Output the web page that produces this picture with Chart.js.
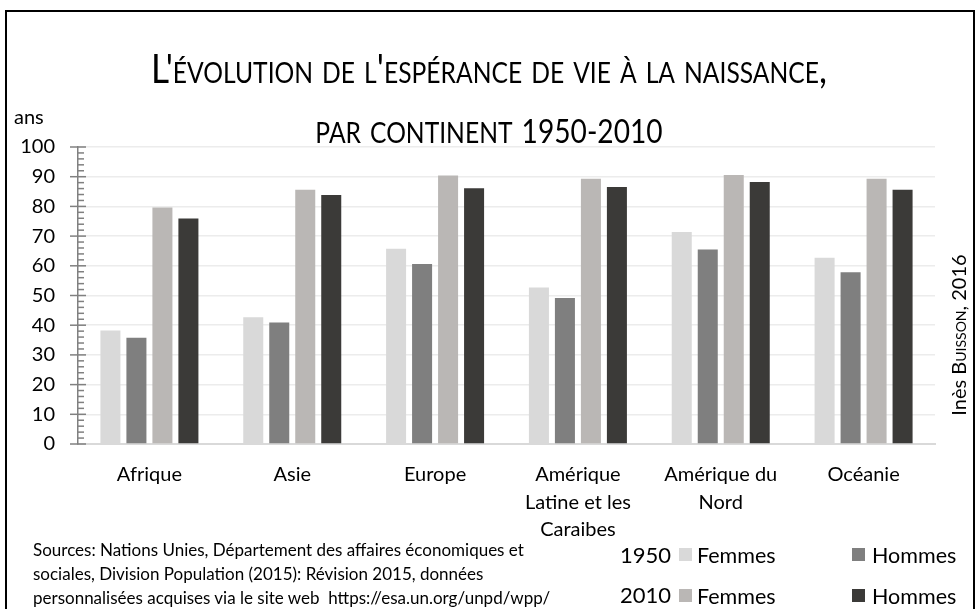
<!DOCTYPE html>
<html>
<head>
<meta charset="utf-8">
<script src="https://cdn.jsdelivr.net/npm/chart.js@4"></script>
<style>
  body { margin: 0; background: #fff; font-family: Lato, sans-serif; color: #000; }
  #wrap { position: relative; width: 978px; height: 609px; overflow: hidden; }
  #frame { position: absolute; left: 5px; top: 10px; width: 966px; height: 640px; border: 2px solid #000; }
  canvas { position: absolute; left: 0; top: 0; }
  .t { position: absolute; white-space: nowrap; }
  #title { left: 0; width: 978px; top: 38px; text-align: center; font-weight: 400; font-size: 40px; font-variant: small-caps; line-height: 60px; transform: scaleX(0.88); }
  #title .yr { font-variant: normal; font-size: 32px; }
  #ans { left: 14px; top: 104px; font-size: 20px; }
  #author { left: 958px; top: 335px; font-size: 20px; transform: translate(-50%, -50%) rotate(-90deg); }
  #author .sc { font-variant: small-caps; }
  #src { left: 33px; top: 538px; font-size: 17px; line-height: 24px; }
  .yr-l { font-size: 22px; }
  .sq { position: absolute; width: 13px; height: 13px; }
  .lg { font-size: 21.5px; }
</style>
</head>
<body>
<div id="wrap">
  <canvas id="graf" width="978" height="609"></canvas>
  <div id="frame"></div>
  <div id="title" class="t">L'évolution de l'espérance de vie à la naissance,<br>par continent <span class="yr">1950-2010</span></div>
  <div id="ans" class="t">ans</div>
  <div id="author" class="t">Inès B<span class="sc">uisson</span>, 2016</div>
  <div id="src" class="t">Sources: Nations Unies, Département des affaires économiques et<br>sociales, Division Population (2015): Révision 2015, données<br>personnalisées acquises via le site web&nbsp; https://esa.un.org/unpd/wpp/</div>

  <div class="t yr-l" style="left:620px; top:541px;">1950</div>
  <div class="sq" style="left:679px; top:548px; background:#d9d9d9;"></div>
  <div class="t lg" style="left:697px; top:542px;">Femmes</div>
  <div class="sq" style="left:852px; top:548px; background:#7f7f7f;"></div>
  <div class="t lg" style="left:872px; top:542px;">Hommes</div>

  <div class="t yr-l" style="left:620px; top:581px;">2010</div>
  <div class="sq" style="left:679px; top:589px; background:#bab7b5;"></div>
  <div class="t lg" style="left:697px; top:583px;">Femmes</div>
  <div class="sq" style="left:852px; top:589px; background:#3b3a38;"></div>
  <div class="t lg" style="left:872px; top:583px;">Hommes</div>
</div>

<script>
// continents (axe X)
var continents = ["Afrique", "Asie", "Europe", ["Amérique", "Latine et les", "Caraibes"], ["Amérique du", "Nord"], "Océanie"];

// espérance de vie (ans)
var femmes1950 = [38.2, 42.7, 65.7, 52.7, 71.4, 62.7];
var hommes1950 = [35.8, 40.9, 60.6, 49.2, 65.5, 57.8];
var femmes2010 = [79.6, 85.6, 90.4, 89.3, 90.6, 89.3];
var hommes2010 = [75.9, 83.8, 86.1, 86.5, 88.2, 85.6];

var yTicks = [0, 10, 20, 30, 40, 50, 60, 70, 80, 90, 100];

// petits traits de l'axe Y (majeurs + mineurs)
var axeTicks = {
  id: 'axeTicks',
  afterDraw: function(chart) {
    var y = chart.scales.y;
    var ctx = chart.ctx;
    var x0 = chart.chartArea.left;
    ctx.save();
    ctx.strokeStyle = '#808080';
    ctx.lineWidth = 1.5;
    for (var v = 0; v <= 100; v += 2) {
      var py = y.getPixelForValue(v);
      ctx.beginPath();
      if (v % 10 === 0) {
        ctx.moveTo(x0 - 8, py);
        ctx.lineTo(x0 + 8, py);
      } else {
        ctx.moveTo(x0, py);
        ctx.lineTo(x0 + 6, py);
      }
      ctx.stroke();
    }
    ctx.restore();
  }
};

var ctx = document.getElementById("graf").getContext("2d");

var graf = new Chart(ctx, {
  type: 'bar',
  data: {
    labels: continents,
    datasets: [
      { label: '1950 Femmes', data: femmes1950, backgroundColor: '#d9d9d9' },
      { label: '1950 Hommes', data: hommes1950, backgroundColor: '#7f7f7f' },
      { label: '2010 Femmes', data: femmes2010, backgroundColor: '#bab7b5' },
      { label: '2010 Hommes', data: hommes2010, backgroundColor: '#3b3a38' }
    ]
  },
  options: {
    responsive: false,
    animation: false,
    devicePixelRatio: 1,
    categoryPercentage: 0.728,
    barPercentage: 0.77,
    layout: { padding: { left: 0, top: 147, right: 43, bottom: 0 } },
    plugins: {
      legend: { display: false },
      tooltip: { enabled: false },
      title: { display: false }
    },
    scales: {
      x: {
        grid: { display: false, drawTicks: false },
        border: { color: '#d9d9d9', width: 2 },
        ticks: {
          color: '#000',
          padding: 17,
          maxRotation: 0,
          autoSkip: false,
          font: { family: 'Lato', size: 20, lineHeight: 1.37 }
        },
        afterFit: function(s) { s.height = 165; }
      },
      y: {
        min: 0,
        max: 100,
        afterBuildTicks: function(s) { s.ticks = yTicks.map(function(v) { return { value: v }; }); },
        grid: { color: '#ececec', lineWidth: 1.5, drawTicks: false },
        border: { color: '#808080', width: 1.5 },
        ticks: {
          color: '#000',
          padding: 23,
          font: { family: 'Lato', size: 20 }
        },
        afterFit: function(s) { s.width = 78; }
      }
    }
  },
  plugins: [axeTicks]
});
</script>
</body>
</html>
